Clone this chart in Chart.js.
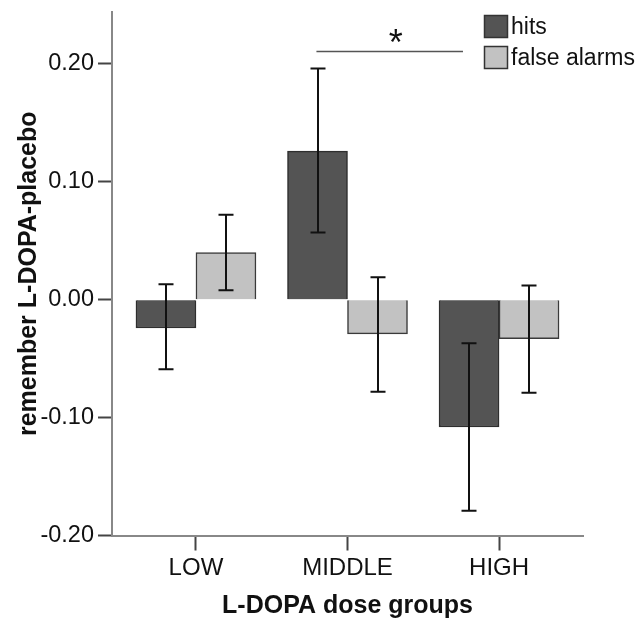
<!DOCTYPE html>
<html>
<head>
<meta charset="utf-8">
<script src="https://cdn.jsdelivr.net/npm/chart.js@4/dist/chart.umd.min.js"></script>
<style>
  html, body { margin: 0; padding: 0; background: #ffffff; }
  #wrap { width: 644px; height: 619px; position: relative; }
</style>
</head>
<body>
<div id="wrap"><canvas id="c" width="644" height="619"></canvas></div>
<script>
// ---- data ----
const categories = ['LOW', 'MIDDLE', 'HIGH'];
const seriesNames = ['hits', 'false alarms'];
const hitsValues = [-0.024, 0.126, -0.108];
const hitsLower = [-0.059, 0.057, -0.179];
const hitsUpper = [0.013, 0.196, -0.037];
const faValues = [0.040, -0.029, -0.033];
const faLower = [0.008, -0.078, -0.079];
const faUpper = [0.072, 0.019, 0.012];
const yTickValues = [-0.2, -0.1, 0.0, 0.1, 0.2];
const yAxisTitle = 'remember L-DOPA-placebo';
const xAxisTitle = 'L-DOPA dose groups';
const sigLabel = '*';

const FONT = "'Liberation Sans', Arial, sans-serif";

const errorBarPlugin = {
  id: 'errorBars',
  afterDatasetsDraw(chart) {
    const ctx = chart.ctx;
    const y = chart.scales.y;
    const bounds = [[hitsLower, hitsUpper], [faLower, faUpper]];
    ctx.save();
    ctx.strokeStyle = '#111111';
    ctx.lineWidth = 2;
    chart.data.datasets.forEach((ds, di) => {
      const meta = chart.getDatasetMeta(di);
      meta.data.forEach((bar, i) => {
        const lo = y.getPixelForValue(bounds[di][0][i]);
        const hi = y.getPixelForValue(bounds[di][1][i]);
        const x = Math.round(bar.x);
        ctx.beginPath();
        ctx.moveTo(x, lo); ctx.lineTo(x, hi);
        ctx.moveTo(x - 7.5, lo); ctx.lineTo(x + 7.5, lo);
        ctx.moveTo(x - 7.5, hi); ctx.lineTo(x + 7.5, hi);
        ctx.stroke();
      });
    });
    ctx.restore();
  }
};

const sigPlugin = {
  id: 'sig',
  afterDraw(chart, args, opts) {
    const ctx = chart.ctx;
    const xs = chart.scales.x, ys = chart.scales.y;
    const x1 = xs.getPixelForValue(opts.from), x2 = xs.getPixelForValue(opts.to);
    const yl = Math.round(ys.getPixelForValue(opts.level)) + 0.5;
    ctx.save();
    ctx.strokeStyle = '#555555';
    ctx.lineWidth = 1.5;
    ctx.beginPath(); ctx.moveTo(x1, yl); ctx.lineTo(x2, yl); ctx.stroke();
    ctx.fillStyle = '#111111';
    ctx.font = '36px ' + FONT;
    ctx.textAlign = 'center';
    ctx.textBaseline = 'alphabetic';
    ctx.fillText(sigLabel, xs.getPixelForValue(opts.labelAt), ys.getPixelForValue(opts.labelLevel));
    ctx.restore();
  }
};

const legendPlugin = {
  id: 'boxLegend',
  afterDraw(chart, args, opts) {
    const ctx = chart.ctx;
    ctx.save();
    ctx.font = '23px ' + FONT;
    ctx.textBaseline = 'middle';
    ctx.textAlign = 'left';
    chart.data.datasets.forEach((ds, i) => {
      const bx = opts.x, by = opts.y + i * opts.step;
      ctx.fillStyle = ds.backgroundColor;
      ctx.fillRect(bx, by, opts.box, opts.boxH);
      ctx.strokeStyle = '#333333';
      ctx.lineWidth = 1.5;
      ctx.strokeRect(bx + 0.5, by + 0.5, opts.box - 1, opts.boxH - 1);
      ctx.fillStyle = '#111111';
      ctx.fillText(ds.label, bx + opts.box + 3, by + opts.boxH / 2 + 1);
    });
    ctx.restore();
  }
};

const toXY = arr => arr.map((v, i) => ({ x: i, y: v }));

new Chart(document.getElementById('c'), {
  type: 'bar',
  data: {
    datasets: [
      { label: seriesNames[0], data: toXY(hitsValues), backgroundColor: '#545454', borderColor: '#2e2e2e', borderWidth: 1.5, barThickness: 60 },
      { label: seriesNames[1], data: toXY(faValues), backgroundColor: '#c2c2c2', borderColor: '#3a3a3a', borderWidth: 1.5, barThickness: 60 }
    ]
  },
  plugins: [errorBarPlugin, sigPlugin, legendPlugin],
  options: {
    responsive: false,
    animation: false,
    layout: { padding: { left: 0, top: 12, right: 61, bottom: 0 } },
    plugins: {
      legend: { display: false },
      tooltip: { enabled: false },
      sig: { from: 0.795, to: 1.762, level: 0.211, labelAt: 1.318, labelLevel: 0.2075 },
      boxLegend: { x: 484, y: 15, step: 31, box: 24, boxH: 23 }
    },
    scales: {
      x: {
        type: 'linear',
        offset: false,
        min: -0.554, max: 2.554,
        afterBuildTicks: s => { s.ticks = categories.map((c, i) => ({ value: i })); },
        afterFit: s => { s.height = 83.5; s.paddingLeft = 0; s.paddingRight = 0; },
        ticks: {
          callback: v => categories[v] !== undefined ? categories[v] : '',
          font: { family: FONT, size: 24 },
          color: '#111111',
          padding: 3,
          maxRotation: 0,
          autoSkip: false
        },
        grid: { display: true, offset: false, drawOnChartArea: false, drawTicks: true, tickLength: 15, tickWidth: 2, tickColor: '#444444' },
        border: { display: true, color: '#888888', width: 2 },
        title: { display: true, text: xAxisTitle, font: { family: FONT, size: 25, weight: 'bold' }, color: '#111111', padding: { top: 0, bottom: -2 } }
      },
      y: {
        type: 'linear',
        min: -0.2, max: 0.244,
        afterBuildTicks: s => { s.ticks = yTickValues.map(v => ({ value: v })); },
        afterFit: s => { s.width = 112; s.paddingTop = 0; s.paddingBottom = 0; },
        ticks: {
          callback: v => Number(v).toFixed(2),
          font: { family: FONT, size: 23.5 },
          color: '#111111',
          padding: 4
        },
        grid: { display: true, drawOnChartArea: false, drawTicks: true, tickLength: 14, tickWidth: 2, tickColor: '#444444' },
        border: { display: true, color: '#888888', width: 2 },
        title: { display: true, text: yAxisTitle, font: { family: FONT, size: 25, weight: 'bold' }, color: '#111111', padding: { top: 14, bottom: 0 } }
      }
    }
  }
});
</script>
</body>
</html>
